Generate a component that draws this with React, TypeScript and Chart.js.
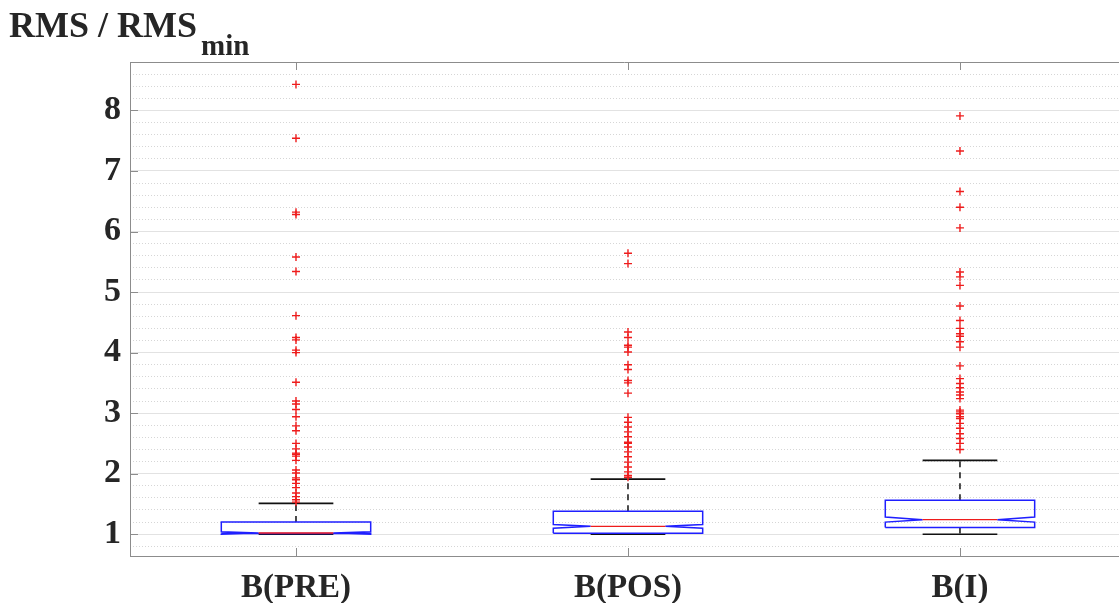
import React, { useEffect, useRef } from 'react';
import { Chart, registerables } from 'chart.js';

Chart.register(...registerables);

const categories = ['B(PRE)', 'B(POS)', 'B(I)'];
const q1 = [1.01, 1.015, 1.11];
const medians = [1.02, 1.13, 1.24];
const q3 = [1.2, 1.38, 1.56];
const notchLo = [1.0, 1.1, 1.2];
const notchHi = [1.04, 1.16, 1.285];
const whiskerLo = [1.0, 1.0, 1.0];
const whiskerHi = [1.51, 1.91, 2.22];

const outliersPRE = [8.43, 7.54, 6.32, 6.28, 5.58, 5.34, 4.61, 4.25, 4.21, 4.04, 4.0, 3.51, 3.2, 3.15, 3.06, 2.94, 2.79, 2.71, 2.5, 2.41, 2.34, 2.32, 2.29, 2.22, 2.06, 2.01, 1.93, 1.9, 1.84, 1.77, 1.68, 1.62, 1.57, 1.53];
const outliersPOS = [5.64, 5.47, 4.34, 4.25, 4.12, 4.09, 4.01, 3.8, 3.72, 3.54, 3.5, 3.33, 2.93, 2.85, 2.77, 2.69, 2.61, 2.52, 2.5, 2.44, 2.36, 2.28, 2.19, 2.11, 2.03, 1.97, 1.94];
const outliersI = [7.91, 7.33, 6.66, 6.4, 6.06, 5.33, 5.25, 5.11, 4.77, 4.53, 4.4, 4.31, 4.27, 4.18, 4.09, 3.78, 3.57, 3.49, 3.42, 3.35, 3.3, 3.24, 3.05, 3.02, 2.99, 2.94, 2.91, 2.83, 2.75, 2.66, 2.58, 2.5, 2.4];
const outlierGroups = [outliersPRE, outliersPOS, outliersI];

const yTickValues = [1, 2, 3, 4, 5, 6, 7, 8];
const yMin = 0.64;
const yMax = 8.8;
const xMin = 0.5;
const xMax = 3.479;

const BOX_HALF = 0.225;
const NOTCH_IN = 0.1125;
const CAP_HALF = 0.1125;

const BLUE = '#1f1fff';
const RED = '#ee1c1c';
const BLACK = '#111111';
const AXIS = '#8c8c8c';
const TEXT = '#262626';
const FONT = '"Liberation Serif", "Times New Roman", serif';

function buildDatasets() {
  const ds: any[] = [];
  ds.push({
    label: 'outliers',
    data: outlierGroups.flatMap((g, i) => g.map((v) => ({ x: i + 1, y: v }))),
    pointStyle: 'cross',
    pointRadius: 4,
    pointBorderWidth: 1.4,
    borderColor: RED,
    backgroundColor: RED,
    showLine: false,
  });
  categories.forEach((_, i) => {
    const c = i + 1;
    const L = c - BOX_HALF;
    const R = c + BOX_HALF;
    ds.push({
      data: [
        { x: L + NOTCH_IN, y: medians[i] },
        { x: R - NOTCH_IN, y: medians[i] },
      ],
      borderColor: RED,
      borderWidth: 1.3,
    });
    ds.push({
      data: [
        { x: L, y: q1[i] },
        { x: L, y: notchLo[i] },
        { x: L + NOTCH_IN, y: medians[i] },
        { x: L, y: notchHi[i] },
        { x: L, y: q3[i] },
        { x: R, y: q3[i] },
        { x: R, y: notchHi[i] },
        { x: R - NOTCH_IN, y: medians[i] },
        { x: R, y: notchLo[i] },
        { x: R, y: q1[i] },
        { x: L, y: q1[i] },
      ],
      borderColor: BLUE,
      borderWidth: 1.5,
    });
    ds.push({
      data: [
        { x: c, y: q3[i] },
        { x: c, y: whiskerHi[i] },
      ],
      borderColor: BLACK,
      borderWidth: 1.5,
      borderDash: [6, 5],
    });
    ds.push({
      data: [
        { x: c, y: q1[i] },
        { x: c, y: whiskerLo[i] },
      ],
      borderColor: BLACK,
      borderWidth: 1.5,
      borderDash: [6, 5],
    });
    ds.push({
      data: [
        { x: c - CAP_HALF, y: whiskerHi[i] },
        { x: c + CAP_HALF, y: whiskerHi[i] },
      ],
      borderColor: BLACK,
      borderWidth: 1.6,
    });
    ds.push({
      data: [
        { x: c - CAP_HALF, y: whiskerLo[i] },
        { x: c + CAP_HALF, y: whiskerLo[i] },
      ],
      borderColor: BLACK,
      borderWidth: 1.6,
    });
  });
  return ds.map((d, idx) =>
    idx === 0
      ? d
      : { showLine: true, pointRadius: 0, pointHoverRadius: 0, tension: 0, fill: false, ...d }
  );
}

const framePlugin = {
  id: 'frame',
  afterDraw(chart: any) {
    const { ctx, chartArea: a, scales } = chart;
    const y = scales.y;
    const x = scales.x;
    ctx.save();
    ctx.strokeStyle = AXIS;
    ctx.lineWidth = 1;
    ctx.beginPath();
    ctx.moveTo(a.left, a.top + 0.5);
    ctx.lineTo(a.right, a.top + 0.5);
    for (const v of yTickValues) {
      const py = Math.round(y.getPixelForValue(v)) + 0.5;
      ctx.moveTo(a.left, py);
      ctx.lineTo(a.left + 8, py);
    }
    categories.forEach((_, i) => {
      const px = Math.round(x.getPixelForValue(i + 1)) + 0.5;
      ctx.moveTo(px, a.top);
      ctx.lineTo(px, a.top + 8);
      ctx.moveTo(px, a.bottom);
      ctx.lineTo(px, a.bottom - 8);
    });
    ctx.stroke();

    ctx.fillStyle = TEXT;
    ctx.textBaseline = 'alphabetic';
    ctx.textAlign = 'left';
    ctx.font = `bold 36px ${FONT}`;
    const main = 'RMS / RMS';
    ctx.fillText(main, 9, 37);
    const w = ctx.measureText(main).width;
    ctx.font = `bold 29px ${FONT}`;
    ctx.fillText('min', 9 + w + 4, 55);
    ctx.restore();
  },
};

export default function App() {
  const ref = useRef<HTMLCanvasElement | null>(null);

  useEffect(() => {
    document.body.style.margin = '0';
    const canvas = ref.current;
    if (!canvas) return;
    const chart = new Chart(canvas, {
      type: 'scatter',
      data: { datasets: buildDatasets() },
      options: {
        animation: false,
        responsive: false,
        events: [],
        layout: { autoPadding: false, padding: { top: 62, right: 0, left: 0, bottom: 0 } },
        plugins: {
          legend: { display: false },
          tooltip: { enabled: false },
          title: { display: false },
        },
        scales: {
          x: {
            type: 'linear',
            min: xMin,
            max: xMax,
            afterBuildTicks: (s: any) => {
              s.ticks = categories.map((_, i) => ({ value: i + 1 }));
            },
            afterFit: (s: any) => {
              s.height = 47;
            },
            grid: { display: false, drawTicks: false },
            border: { display: true, color: AXIS, width: 1 },
            ticks: {
              autoSkip: false,
              maxRotation: 0,
              padding: 13,
              color: TEXT,
              font: { family: FONT, size: 33, weight: 'bold' },
              callback: (v: any) => categories[Math.round(Number(v)) - 1] ?? '',
            },
          },
          y: {
            type: 'linear',
            position: 'left',
            min: yMin,
            max: yMax,
            afterBuildTicks: (s: any) => {
              s.ticks = yTickValues.map((v) => ({ value: v }));
            },
            afterFit: (s: any) => {
              s.width = 130;
            },
            grid: { color: '#e2e2e2', lineWidth: 1, drawTicks: false },
            border: { display: true, color: AXIS, width: 1 },
            ticks: {
              padding: 9,
              color: TEXT,
              font: { family: FONT, size: 34, weight: 'bold' },
              callback: (v: any) => String(v),
            },
          },
          yMinor: {
            type: 'linear',
            position: 'left',
            min: yMin,
            max: yMax,
            afterBuildTicks: (s: any) => {
              const t: any[] = [];
              for (let k = 4; k <= 44; k++) {
                const v = Math.round(k * 20) / 100;
                if (Math.abs(v - Math.round(v)) > 1e-6) t.push({ value: v });
              }
              s.ticks = t;
            },
            afterFit: (s: any) => {
              s.width = 0;
            },
            grid: { color: '#d6d6d6', lineWidth: 1, drawTicks: false },
            border: { display: false, dash: [1, 2] },
            ticks: { display: false },
          },
        },
      } as any,
      plugins: [framePlugin],
    });
    return () => chart.destroy();
  }, []);

  return (
    <div style={{ position: 'absolute', left: 0, top: 0, width: 1119, height: 603, background: '#fff' }}>
      <canvas ref={ref} width={1119} height={603} style={{ display: 'block' }} />
    </div>
  );
}
